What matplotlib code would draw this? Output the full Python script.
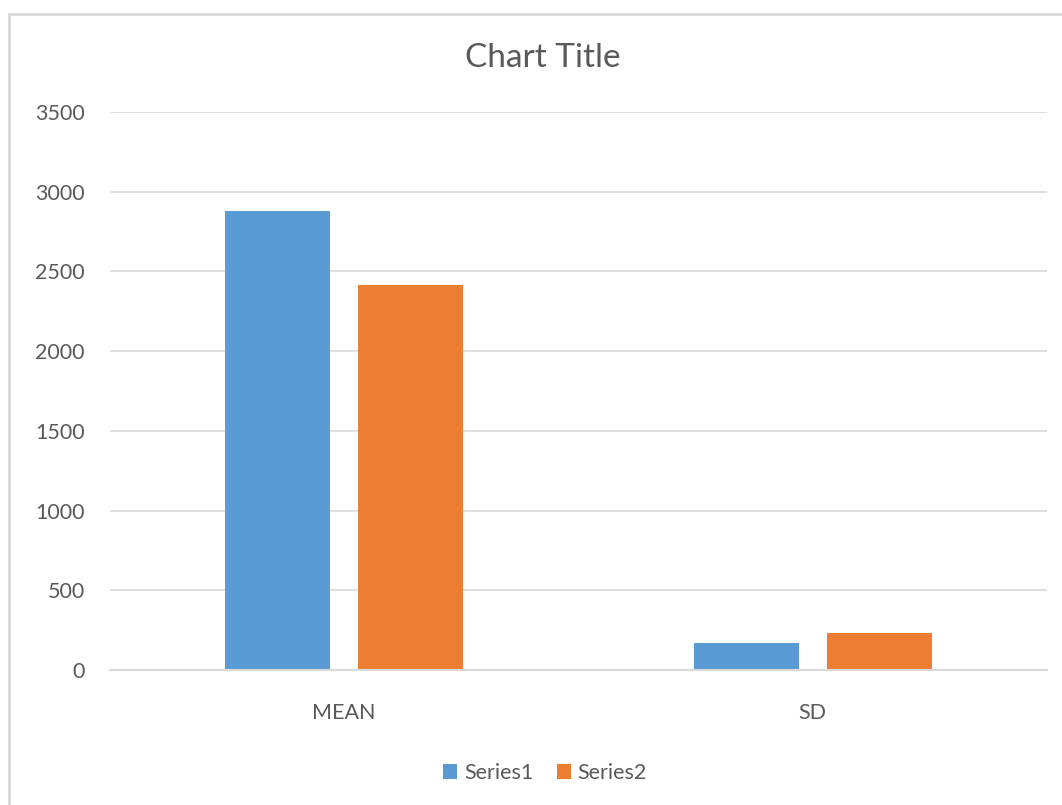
import numpy as np
import matplotlib.pyplot as plt
from matplotlib.patches import Rectangle

# data
categories = ["MEAN", "SD"]
series1 = [2879, 172]
series2 = [2417, 230]
series_names = ["Series1", "Series2"]

BLUE = "#5B9BD5"
ORANGE = "#ED7D31"
TEXT = "#595959"
GRID = "#D9D9D9"

plt.rcParams['font.family'] = ['Lato', 'DejaVu Sans']

W, H = 1062, 805
fig = plt.figure(figsize=(W / 100, H / 100), dpi=100)

# chart area border (runs off the right and bottom edges)
fig.patches.append(Rectangle((9 / W, -0.2), 1.2, 1.2 - 14 / H, transform=fig.transFigure,
                             fill=False, edgecolor=GRID, lw=2))

ax = fig.add_axes([110 / W, 135 / H, (1047 - 110) / W, 558 / H])

x = np.arange(len(categories))
width = 0.224
ax.bar(x - 0.142, series1, width, color=BLUE, label=series_names[0])
ax.bar(x + 0.142, series2, width, color=ORANGE, label=series_names[1])

ax.set_xlim(-0.5, len(categories) - 0.5)
ax.set_ylim(0, 3500)
ax.set_yticks(np.arange(0, 3501, 500))
ax.set_xticks(x)
ax.set_xticklabels(categories)

ax.yaxis.grid(True, color=GRID, lw=1.2)
ax.set_axisbelow(True)
for s in ["top", "right", "left"]:
    ax.spines[s].set_visible(False)
ax.spines["bottom"].set_color(GRID)
ax.spines["bottom"].set_linewidth(1.5)
ax.tick_params(axis="both", length=0, colors=TEXT, labelsize=15.5)
ax.tick_params(axis="y", pad=18)
ax.tick_params(axis="x", pad=24)

fig.text(543 / W, 1 - 58 / H, "Chart Title", ha="center", va="center",
         fontsize=24, color=TEXT)

fig.legend(loc="center", bbox_to_anchor=(545 / W, 1 - 773 / H), ncol=2,
           frameon=False, fontsize=15.5, labelcolor=TEXT, handlelength=0.65,
           handleheight=0.65, handletextpad=0.3, columnspacing=1.1)

fig.savefig("out.png", dpi=100, facecolor="white")
